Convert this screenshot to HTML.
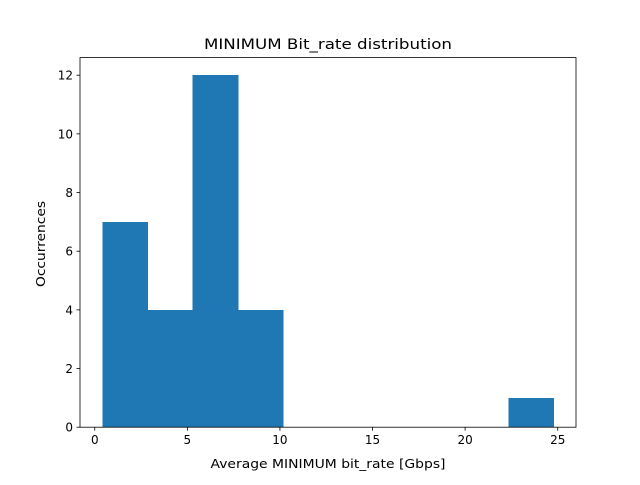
<!DOCTYPE html>
<html><head><meta charset="utf-8"><style>
body{margin:0;background:#fff}
svg text{font-family:"DejaVu Sans","Liberation Sans",sans-serif;fill:#000}
</style></head><body>
<svg id="c" width="640" height="480" viewBox="0 0 640 480">
<rect width="640" height="480" fill="#fff"/>
<text x="328" y="49" font-size="14.4" text-anchor="middle" textLength="248" lengthAdjust="spacingAndGlyphs">MINIMUM Bit_rate distribution</text>
<g id="bars" shape-rendering="crispEdges"></g><g id="xt"></g><g id="yt"></g>
<rect x="80" y="57.6" width="496" height="369.6" fill="none" stroke="#000" stroke-width="0.8"/>
<text x="328" y="468" font-size="12" text-anchor="middle" textLength="235" lengthAdjust="spacingAndGlyphs">Average MINIMUM bit_rate [Gbps]</text>
<text transform="translate(45,244) rotate(-90)" font-size="12" text-anchor="middle" textLength="86" lengthAdjust="spacingAndGlyphs">Occurrences</text>
</svg>
<script>
const binMin = 0.42;
const binMax = 24.77;
const counts = [7, 4, 12, 4, 0, 0, 0, 0, 0, 1];
const xTicks = [0, 5, 10, 15, 20, 25];
const yTicks = [0, 2, 4, 6, 8, 10, 12];
const NS = "http://www.w3.org/2000/svg";
const L = 80, R = 576, T = 57.6, B = 427.2;
const span = binMax - binMin;
const xmin = binMin - 0.05 * span, xmax = binMax + 0.05 * span;
const ymax = Math.max(...counts) * 1.05;
const X = v => L + (v - xmin) / (xmax - xmin) * (R - L);
const Y = v => B - v / ymax * (B - T);
function mk(t, a, p) { const e = document.createElementNS(NS, t); for (const k in a) e.setAttribute(k, a[k]); p.appendChild(e); return e; }
const w = span / counts.length;
const bars = document.getElementById('bars');
counts.forEach((c, i) => {
  if (!c) return;
  const x0 = X(binMin + i * w), x1 = X(binMin + (i + 1) * w);
  const r = mk('rect', { x: x0, y: Y(c), width: x1 - x0 + 0.5, height: B - Y(c), fill: '#1f77b4' }, bars);
  
  
});
const xt = document.getElementById('xt');
xTicks.forEach(v => {
  const x = X(v);
  mk('line', { x1: x, x2: x, y1: B, y2: B + 3.5, stroke: '#000', 'stroke-width': 0.8 }, xt);
  const t = mk('text', { x: x, y: B + 17, 'font-size': 12, 'text-anchor': 'middle' }, xt);
  t.textContent = v;
  
  
});
const yt = document.getElementById('yt');
yTicks.forEach(v => {
  const y = Y(v);
  mk('line', { x1: L - 3.5, x2: L, y1: y, y2: y, stroke: '#000', 'stroke-width': 0.8 }, yt);
  const t = mk('text', { x: L - 7, y: y + 4.5, 'font-size': 12, 'text-anchor': 'end' }, yt);
  t.textContent = v;
  
  
});
</script>
</body></html>
